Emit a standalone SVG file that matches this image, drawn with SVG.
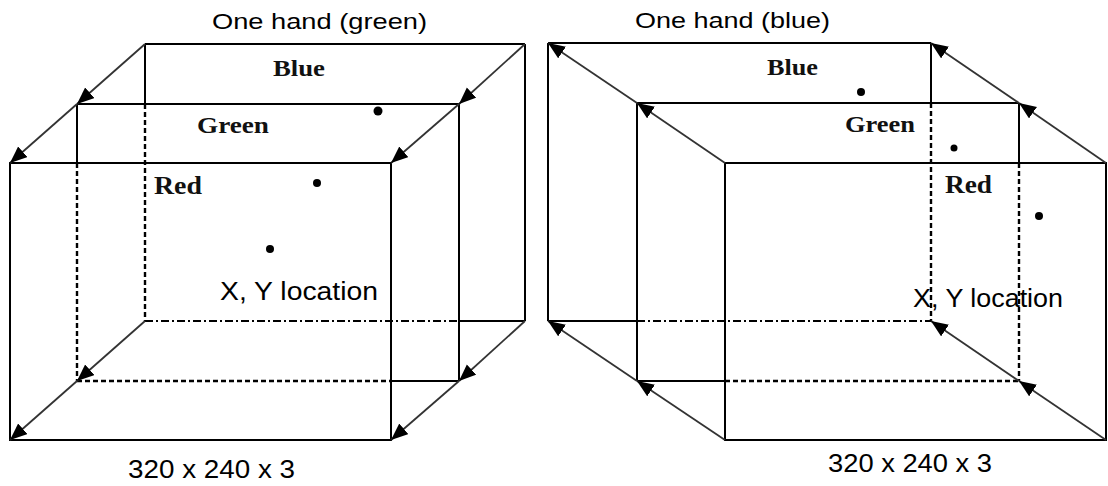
<svg xmlns="http://www.w3.org/2000/svg" width="1108" height="486" viewBox="0 0 1108 486">
<style>
.e{stroke:#000;stroke-width:2;fill:none}
.hd{stroke:#000;stroke-width:2.4;fill:none;stroke-dasharray:5 3}
.hdd{stroke:#000;stroke-width:2;fill:none;stroke-dasharray:8 3 2 3}
.ar{stroke:#333;stroke-width:1.8;fill:none;marker-end:url(#ah)}
.t{font-family:"Liberation Sans",Arial,sans-serif;fill:#000}
.s{font-family:"Liberation Serif","Times New Roman",serif;font-weight:bold;fill:#111}
.d{fill:#000}
</style>
<defs>
<marker id="ah" markerUnits="userSpaceOnUse" markerWidth="20" markerHeight="16" refX="17" refY="7" orient="auto">
<path d="M0,0 L17,7 L0,14 Z" fill="#000"/>
</marker>
</defs>
<rect width="1108" height="486" fill="#fff"/>

<g id="left-cube">
<g id="left-blue">
<line class="e" x1="145" y1="44" x2="525" y2="44"/>
<line class="e" x1="525" y1="44" x2="525" y2="321"/>
<line class="e" x1="145" y1="44" x2="145" y2="104"/>
<line class="hd" x1="145" y1="104" x2="145" y2="321"/>
<line class="hdd" x1="145" y1="321" x2="459" y2="321"/>
<line class="e" x1="459" y1="321" x2="525" y2="321"/>
</g>
<g id="left-green">
<line class="e" x1="77" y1="104" x2="459" y2="104"/>
<line class="e" x1="459" y1="104" x2="459" y2="381"/>
<line class="e" x1="77" y1="104" x2="77" y2="163"/>
<line class="hd" x1="77" y1="163" x2="77" y2="381"/>
<line class="hd" x1="77" y1="381" x2="391" y2="381"/>
<line class="e" x1="391" y1="381" x2="459" y2="381"/>
</g>
<g id="left-red">
<rect class="e" x="10" y="163" width="381" height="277"/>
</g>
<text class="s" x="273" y="76" font-size="24" textLength="52" lengthAdjust="spacingAndGlyphs">Blue</text>
<text class="s" x="197" y="133" font-size="23" textLength="72" lengthAdjust="spacingAndGlyphs">Green</text>
<text class="s" x="154" y="194" font-size="25" textLength="48" lengthAdjust="spacingAndGlyphs">Red</text>
<circle class="d" cx="378" cy="111" r="4.5"/>
<circle class="d" cx="317" cy="183" r="4"/>
<circle class="d" cx="270" cy="249" r="4"/>
<text class="t" x="212" y="29" font-size="22" textLength="215" lengthAdjust="spacingAndGlyphs">One hand (green)</text>
<text class="t" x="220" y="300" font-size="25" textLength="158" lengthAdjust="spacingAndGlyphs">X, Y location</text>
<text class="t" x="128" y="478" font-size="25" textLength="167" lengthAdjust="spacingAndGlyphs">320 x 240 x 3</text>
</g>

<g id="right-cube">
<g id="right-blue">
<line class="e" x1="548" y1="43" x2="931" y2="43"/>
<line class="e" x1="548" y1="43" x2="548" y2="321"/>
<line class="e" x1="931" y1="43" x2="931" y2="103"/>
<line class="hd" x1="931" y1="103" x2="931" y2="321"/>
<line class="e" x1="548" y1="321" x2="637" y2="321"/>
<line class="hdd" x1="637" y1="321" x2="931" y2="321"/>
</g>
<g id="right-green">
<line class="e" x1="637" y1="103" x2="1019" y2="103"/>
<line class="e" x1="637" y1="103" x2="637" y2="381"/>
<line class="e" x1="1019" y1="103" x2="1019" y2="163"/>
<line class="hd" x1="1019" y1="163" x2="1019" y2="381"/>
<line class="e" x1="637" y1="381" x2="725" y2="381"/>
<line class="hd" x1="725" y1="381" x2="1019" y2="381"/>
</g>
<g id="right-red">
<rect class="e" x="725" y="163" width="381" height="277"/>
</g>
<text class="s" x="767" y="75" font-size="24" textLength="51" lengthAdjust="spacingAndGlyphs">Blue</text>
<text class="s" x="845" y="132" font-size="23" textLength="70" lengthAdjust="spacingAndGlyphs">Green</text>
<text class="s" x="945" y="193" font-size="25" textLength="47" lengthAdjust="spacingAndGlyphs">Red</text>
<circle class="d" cx="861" cy="92" r="4"/>
<circle class="d" cx="954" cy="148" r="3.5"/>
<circle class="d" cx="1039" cy="216" r="4"/>
<text class="t" x="635" y="28" font-size="22" textLength="195" lengthAdjust="spacingAndGlyphs">One hand (blue)</text>
<text class="t" x="913" y="307" font-size="25" textLength="150" lengthAdjust="spacingAndGlyphs">X, Y location</text>
<text class="t" x="828" y="472" font-size="25" textLength="164" lengthAdjust="spacingAndGlyphs">320 x 240 x 3</text>
</g>

<g id="connectors">
<line class="ar" x1="145" y1="44" x2="77" y2="104"/>
<line class="ar" x1="77" y1="104" x2="10" y2="163"/>
<line class="ar" x1="525" y1="44" x2="459" y2="104"/>
<line class="ar" x1="459" y1="104" x2="391" y2="163"/>
<line class="ar" x1="145" y1="321" x2="77" y2="381"/>
<line class="ar" x1="77" y1="381" x2="10" y2="440"/>
<line class="ar" x1="525" y1="321" x2="459" y2="381"/>
<line class="ar" x1="459" y1="381" x2="391" y2="440"/>
<line class="ar" x1="725" y1="163" x2="637" y2="103"/>
<line class="ar" x1="637" y1="103" x2="548" y2="43"/>
<line class="ar" x1="1106" y1="163" x2="1019" y2="103"/>
<line class="ar" x1="1019" y1="103" x2="931" y2="43"/>
<line class="ar" x1="725" y1="440" x2="637" y2="381"/>
<line class="ar" x1="637" y1="381" x2="548" y2="321"/>
<line class="ar" x1="1106" y1="440" x2="1019" y2="381"/>
<line class="ar" x1="1019" y1="381" x2="931" y2="321"/>
</g>
</svg>
